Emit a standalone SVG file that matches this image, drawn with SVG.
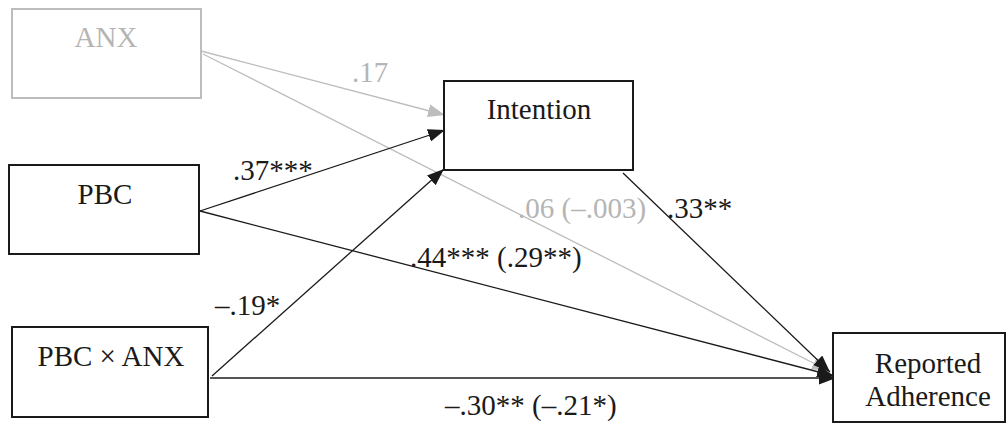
<svg xmlns="http://www.w3.org/2000/svg" width="1008" height="423" viewBox="0 0 1008 423" font-family="'Liberation Serif', Tinos, 'Times New Roman', 'DejaVu Serif', serif" font-size="29">
<style>
text{font-family:'Liberation Serif',Tinos,'Times New Roman','DejaVu Serif',serif;font-size:29px;fill:#1a1a1a}
.g{fill:#b5b5b5}
.box{fill:#fff;stroke:#1a1a1a;stroke-width:2}
.gbox{fill:#fff;stroke:#bdbdbd;stroke-width:2}
.ln{stroke:#1a1a1a;stroke-width:1.3;fill:none}
.gln{stroke:#bdbdbd;stroke-width:1.3;fill:none}
</style>
<defs>
<marker id="ah" markerUnits="userSpaceOnUse" markerWidth="18" markerHeight="14" refX="17" refY="6.5" orient="auto"><path d="M0,0 L17,6.5 L0,13 z" fill="#1a1a1a"/></marker>
<marker id="gah" markerUnits="userSpaceOnUse" markerWidth="18" markerHeight="14" refX="17" refY="6.5" orient="auto"><path d="M0,0 L17,6.5 L0,13 z" fill="#bdbdbd"/></marker>
</defs>
<g id="connectors">
<line class="gln" x1="201" y1="51" x2="445" y2="115" marker-end="url(#gah)"/>
<line class="gln" x1="203" y1="54" x2="829" y2="371" marker-end="url(#gah)"/>
<line class="ln" x1="200" y1="211" x2="445" y2="130" marker-end="url(#ah)"/>
<line class="ln" x1="200" y1="211" x2="834" y2="376" marker-end="url(#ah)"/>
<line class="ln" x1="212" y1="376" x2="444" y2="169" marker-end="url(#ah)"/>
<line class="ln" x1="623" y1="173" x2="830" y2="372" marker-end="url(#ah)"/>
<line x1="210" y1="378" x2="836" y2="378" stroke="#555" stroke-width="2" marker-end="url(#ah)"/>
<text class="g" x="352" y="82">.17</text>
<text x="233" y="180">.37***</text>
<text class="g" x="518" y="218">.06 (–.003)</text>
<text x="667" y="218">.33**</text>
<text x="410" y="267">.44*** (.29**)</text>
<text x="215" y="315">–.19*</text>
<text x="445" y="415">–.30** (–.21*)</text>
</g>
<g id="anx">
<rect class="gbox" x="12" y="9" width="189" height="89"/>
<text class="g" x="106" y="47" text-anchor="middle">ANX</text>
</g>
<g id="intention">
<rect class="box" x="444" y="81" width="189" height="89"/>
<text x="539" y="119" text-anchor="middle">Intention</text>
</g>
<g id="pbc">
<rect class="box" x="9" y="165" width="190" height="89"/>
<text x="105" y="204" text-anchor="middle">PBC</text>
</g>
<g id="pbcxanx">
<rect class="box" x="12" y="327" width="196" height="90"/>
<text x="111" y="366" text-anchor="middle">PBC × ANX</text>
</g>
<g id="reported">
<rect class="box" x="833" y="333" width="172" height="89"/>
<text x="928" y="373" text-anchor="middle">Reported</text>
<text x="928" y="406" text-anchor="middle">Adherence</text>
</g>
</svg>
